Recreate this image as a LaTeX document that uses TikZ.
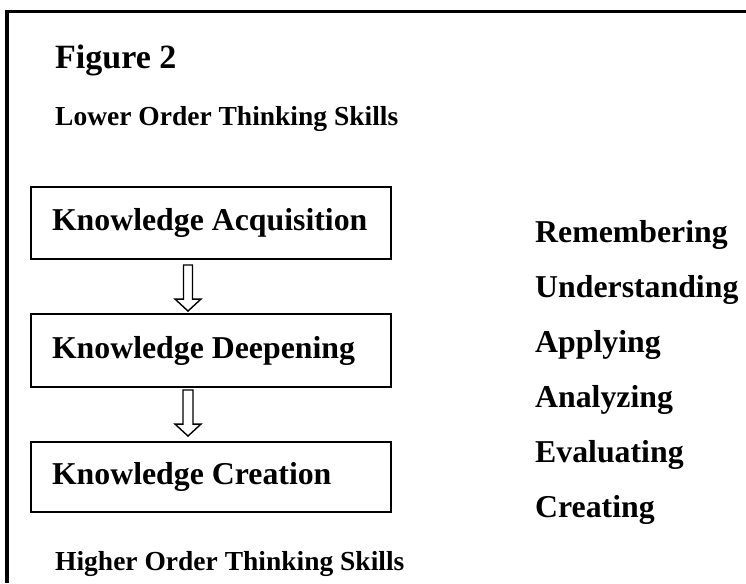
\documentclass[tikz,border=0pt]{standalone}
\usepackage{fontspec}
\setmainfont{Liberation Serif}
\usetikzlibrary{calc}
\begin{document}
\begin{tikzpicture}[x=1pt,y=-1pt,
  frameline/.style={line width=3.6pt, line cap=butt},
  boxst/.style={draw, line width=1.9pt, rectangle, minimum width=360pt, inner xsep=21pt,
    font=\fontsize{31.8}{36}\selectfont\bfseries},
  titlest/.style={anchor=base west, inner sep=0pt, font=\fontsize{34}{40}\selectfont\bfseries},
  headst/.style={anchor=base west, inner sep=0pt, font=\fontsize{27.5}{33}\selectfont\bfseries},
  skillst/.style={anchor=base west, inner sep=0pt, font=\fontsize{31.8}{36}\selectfont\bfseries},
  hollowarrow/.style={draw, line width=1.4pt, fill=white, line join=miter}]
\useasboundingbox (0,0) rectangle (746,583);
% partial frame
\coordinate (fc) at (7,11.7);
\coordinate (fr) at (746,11.7);
\coordinate (fb) at (7,583);
\draw[frameline] ($(fc)+(-1.8,0)$) -- (fr);
\draw[frameline] ($(fc)+(0,-1.7)$) -- (fb);
% titles
\node[titlest] (fig) at (55,68.5) {Figure 2};
\node[headst] (lots) at (55,125) {Lower Order Thinking Skills};
\node[headst] (hots) at (55,570) {Higher Order Thinking Skills};
% boxes
\node[boxst, minimum height=72pt] (b1) at (211,223) {\makebox[318pt][l]{Knowledge Acquisition}};
\node[boxst, minimum height=73pt] (b2) at (211,350.5) {\makebox[318pt][l]{Knowledge Deepening}};
\node[boxst, minimum height=70pt] (b3) at (211,477) {\makebox[318pt][l]{Knowledge Creation}};
% hollow arrows
\coordinate (ax) at (188,0);
\coordinate (s1) at ($(b1.south -| ax)+(0,5)$);
\coordinate (e1) at ($(b2.north -| ax)+(0,-2)$);
\coordinate (s2) at ($(b2.south -| ax)+(0,2)$);
\coordinate (e2) at ($(b3.north -| ax)+(0,-5)$);
\draw[hollowarrow] ($(s1)+(-4.5,0)$) -- ($(e1)+(-4.5,-12)$) -- ($(e1)+(-13,-12)$) -- (e1)
  -- ($(e1)+(13,-12)$) -- ($(e1)+(4.5,-12)$) -- ($(s1)+(4.5,0)$) -- cycle;
\draw[hollowarrow] ($(s2)+(-5,0)$) -- ($(e2)+(-5,-12)$) -- ($(e2)+(-13,-12)$) -- (e2)
  -- ($(e2)+(13,-12)$) -- ($(e2)+(5,-12)$) -- ($(s2)+(5,0)$) -- cycle;
% skills column
\node[skillst] (k1) at (535,242.5) {Remembering};
\node[skillst] (k2) at (535,297.5) {Understanding};
\node[skillst] (k3) at (535,352.5) {Applying};
\node[skillst] (k4) at (535,407.5) {Analyzing};
\node[skillst] (k5) at (535,462) {Evaluating};
\node[skillst] (k6) at (535,517) {Creating};
\end{tikzpicture}
\end{document}
